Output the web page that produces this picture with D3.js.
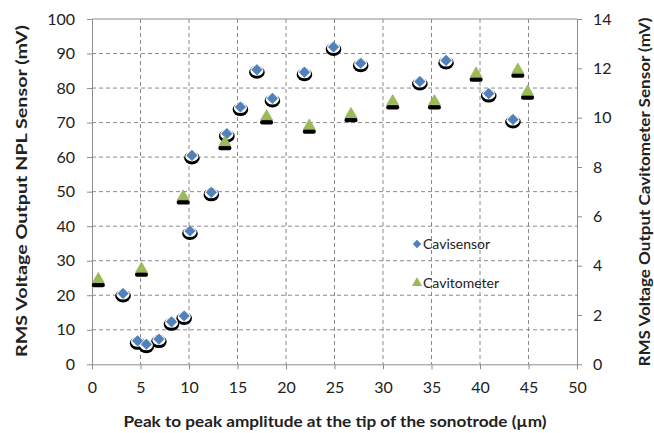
<!DOCTYPE html>
<html><head><meta charset="utf-8">
<script src="https://cdn.jsdelivr.net/npm/d3@7"></script>
<style>body{margin:0;background:#fff}svg{display:block}text{font-family:Lato,"Open Sans",sans-serif;fill:#222}</style>
</head><body><svg id="c" width="654" height="433"></svg>
<script>
const cavisensorX = [3.2, 4.7, 5.6, 6.9, 8.2, 9.5, 10.1, 10.3, 12.3, 13.9, 15.3, 17.0, 18.6, 21.9, 24.9, 27.7, 33.8, 36.5, 40.9, 43.4];
const cavisensorY = [20.5, 6.8, 5.8, 7.3, 12.3, 14.0, 38.6, 60.5, 49.8, 66.8, 74.5, 85.3, 77.0, 84.6, 91.9, 87.2, 81.9, 88.0, 78.4, 70.9];
const cavitometerX = [0.65, 5.1, 9.4, 13.7, 18.0, 22.4, 26.7, 31.0, 35.3, 39.6, 43.9, 44.9];
const cavitometerY = [3.45, 3.87, 6.8, 9.0, 10.05, 9.67, 10.14, 10.66, 10.66, 11.78, 11.94, 11.05];
const xTicks = [0,5,10,15,20,25,30,35,40,45,50];
const yLeftTicks = [0,10,20,30,40,50,60,70,80,90,100];
const yRightTicks = [0,2,4,6,8,10,12,14];
const seriesNames = ["Cavisensor","Cavitometer"];
const xTitle = "Peak to peak amplitude at the tip of the sonotrode (µm)";
const yLeftTitle = "RMS Voltage Output NPL Sensor (mV)";
const yRightTitle = "RMS Voltage Output  Cavitometer Sensor (mV)";

const svg = d3.select("#c");
const L=92, R=577, T=19, B=364.3;
const x = d3.scaleLinear().domain([0,50]).range([L,R]);
const yl = d3.scaleLinear().domain([0,100]).range([B,T]);
const yr = d3.scaleLinear().domain([0,14]).range([B,T]);
const axisCol = "#8c8c8c";

// gridlines
const g = svg.append("g");
g.selectAll(".vg").data(xTicks.slice(1,-1)).join("line")
  .attr("x1",d=>x(d)).attr("x2",d=>x(d)).attr("y1",T).attr("y2",B)
  .attr("stroke","#8a8a8a").attr("stroke-dasharray","4,3").attr("stroke-width",1);
g.selectAll(".hg").data(yLeftTicks.slice(1,-1)).join("line")
  .attr("x1",L).attr("x2",R).attr("y1",d=>yl(d)).attr("y2",d=>yl(d))
  .attr("stroke","#8a8a8a").attr("stroke-dasharray","4,3").attr("stroke-width",1);
g.append("line").attr("x1",L).attr("x2",R).attr("y1",T).attr("y2",T).attr("stroke",axisCol);

// axes
function styleAxis(sel){
  sel.select(".domain").attr("stroke",axisCol);
  sel.selectAll(".tick line").attr("stroke",axisCol);
  sel.selectAll("text").attr("font-size",16).attr("fill","#222").style("font-family","Lato, 'Open Sans', sans-serif");
}
const xa = svg.append("g").attr("transform",`translate(0,${B})`)
  .call(d3.axisBottom(x).tickValues(xTicks).tickSize(5).tickPadding(12).tickSizeOuter(0));
styleAxis(xa);
const yla = svg.append("g").attr("transform",`translate(${L},0)`)
  .call(d3.axisLeft(yl).tickValues(yLeftTicks).tickSize(5).tickPadding(12).tickSizeOuter(0));
styleAxis(yla);
const yra = svg.append("g").attr("transform",`translate(${R},0)`)
  .call(d3.axisRight(yr).tickValues(yRightTicks).tickSize(5).tickPadding(11).tickSizeOuter(0));
styleAxis(yra);

// markers
const sDia = d3.symbol().type(d3.symbolDiamond2).size(72);
const sTri = d3.symbol().type(d3.symbolTriangle).size(62);
const dia = cavisensorX.map((v,i)=>({x:v,y:cavisensorY[i]}));
const tri = cavitometerX.map((v,i)=>({x:v,y:cavitometerY[i]}));

// diamonds (primary series, drawn first) with shadows
const dg = svg.append("g");
dg.selectAll(".s1").data(dia).join("ellipse")
  .attr("cx",d=>x(d.x)).attr("cy",d=>yl(d.y)+2.5).attr("rx",7.8).attr("ry",6.5).attr("fill","#000");
dg.selectAll(".s2").data(dia).join("ellipse")
  .attr("cx",d=>x(d.x)).attr("cy",d=>yl(d.y)+0.8).attr("rx",6.6).attr("ry",5.2).attr("fill","#fff");
dg.selectAll("path").data(dia).join("path")
  .attr("transform",d=>`translate(${x(d.x)},${yl(d.y)})`).attr("d",sDia)
  .attr("fill","#4f81bd").attr("stroke","#4372ab").attr("stroke-width",0.5);

// triangles (secondary series, on top) with shadows
const tg = svg.append("g");
tg.selectAll("rect").data(tri).join("rect")
  .attr("x",d=>x(d.x)-6.5).attr("y",d=>yr(d.y)+3.5).attr("width",13).attr("height",4.5).attr("rx",2)
  .attr("fill","#000");
tg.selectAll("path").data(tri).join("path")
  .attr("transform",d=>`translate(${x(d.x)},${yr(d.y)})`).attr("d",sTri)
  .attr("fill","#9bbb59").attr("stroke","#8aa84c").attr("stroke-width",0.5);

// legend
const lg = svg.append("g");
lg.append("path").attr("transform","translate(417,244)").attr("d",d3.symbol().type(d3.symbolDiamond2).size(45)).attr("fill","#4f81bd");
lg.append("path").attr("transform","translate(417,283)").attr("d",d3.symbol().type(d3.symbolTriangle).size(45)).attr("fill","#9bbb59");
lg.append("text").attr("x",423).attr("y",249).attr("font-size",14).text(seriesNames[0]);
lg.append("text").attr("x",423).attr("y",288).attr("font-size",14).text(seriesNames[1]);

// titles
svg.append("text").attr("x",335).attr("y",427).attr("text-anchor","middle")
  .attr("font-size",16).attr("font-weight","bold")
  .attr("textLength",423).attr("lengthAdjust","spacingAndGlyphs").text(xTitle);
svg.append("text").attr("transform","translate(27,191) rotate(-90)").attr("text-anchor","middle")
  .attr("font-size",15.5).attr("font-weight","bold")
  .attr("textLength",332).attr("lengthAdjust","spacingAndGlyphs").text(yLeftTitle);
svg.append("text").attr("transform","translate(650,192) rotate(-90)").attr("text-anchor","middle")
  .attr("font-size",15.5).attr("font-weight","bold")
  .attr("textLength",349).attr("lengthAdjust","spacingAndGlyphs").text(yRightTitle);
</script></body></html>
